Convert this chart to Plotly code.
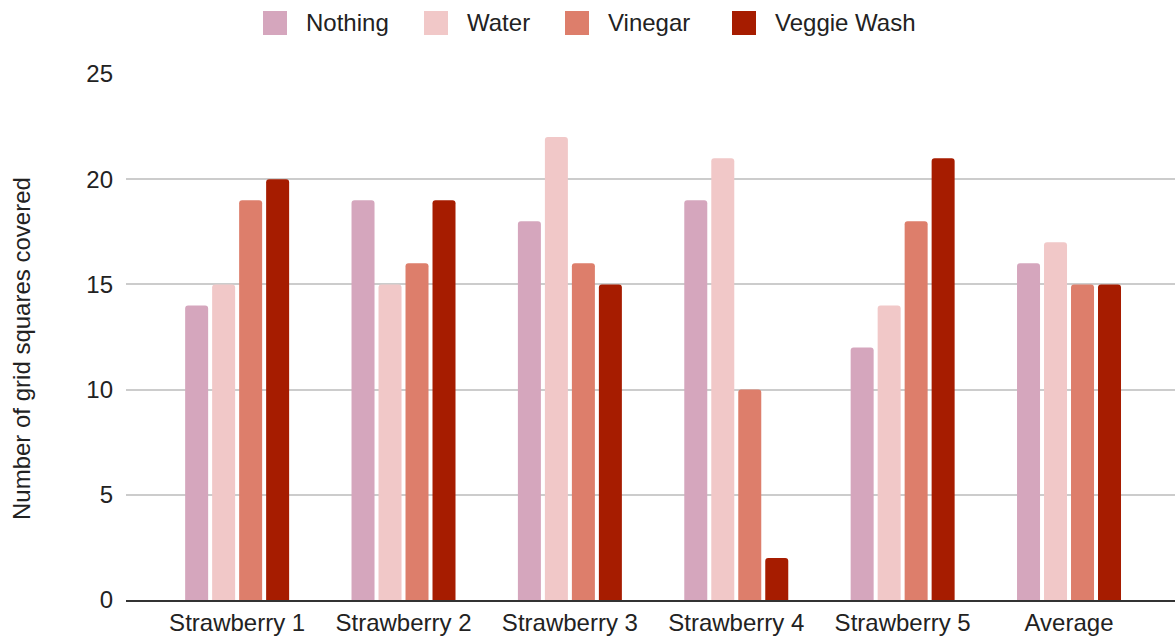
import plotly.graph_objects as go

categories = ["Strawberry 1", "Strawberry 2", "Strawberry 3", "Strawberry 4", "Strawberry 5", "Average"]
nothing = [14, 19, 18, 19, 12, 16]
water = [15, 15, 22, 21, 14, 17]
vinegar = [19, 16, 16, 10, 18, 15]
veggie_wash = [20, 19, 15, 2, 21, 15]
series_names = ["Nothing", "Water", "Vinegar", "Veggie Wash"]
colors = ["#d5a6bd", "#f1c8c8", "#dd7e6b", "#a61c00"]
y_ticks = [0, 5, 10, 15, 20, 25]

W, H = 1175, 640
ML, MR, MT, MB = 126, 0, 74, 40
PW, PH = W - ML - MR, H - MT - MB
FONT = "Liberation Sans, Arial, sans-serif"

def px_to_paper_x(px):
    return (px - ML) / PW

def px_to_paper_y(py):
    return (H - MB - py) / PH

fig = go.Figure()
for name, vals, col in zip(series_names, [nothing, water, vinegar, veggie_wash], colors):
    fig.add_trace(go.Bar(
        x=categories, y=vals, name=name, marker_color=col,
        marker_line_width=0, showlegend=False,
    ))

# custom legend (large square swatches like the original)
legend_marker_left = [263, 424, 565, 732]
shapes = []
annotations = []
for name, col, mx in zip(series_names, colors, legend_marker_left):
    shapes.append(dict(
        type="rect", xref="paper", yref="paper",
        x0=px_to_paper_x(mx), x1=px_to_paper_x(mx + 24),
        y0=px_to_paper_y(35), y1=px_to_paper_y(11),
        fillcolor=col, line=dict(width=0), layer="above",
    ))
    annotations.append(dict(
        text=name, xref="paper", yref="paper",
        x=px_to_paper_x(mx + 41), y=px_to_paper_y(23),
        xanchor="left", yanchor="middle", showarrow=False,
        font=dict(family=FONT, size=24, color="#222222"),
    ))

annotations.append(dict(
    text="Number of grid squares covered", xref="paper", yref="paper",
    x=px_to_paper_x(21), y=px_to_paper_y(349), textangle=-90,
    xanchor="center", yanchor="middle", showarrow=False,
    font=dict(family=FONT, size=24, color="#222222"),
))

fig.update_layout(
    width=W, height=H,
    margin=dict(l=ML, r=MR, t=MT, b=MB, pad=0),
    paper_bgcolor="white", plot_bgcolor="white",
    font=dict(family=FONT, size=24, color="#222222"),
    barmode="group", bargap=0.351, bargroupgap=0.148,
    barcornerradius=3,
    shapes=shapes, annotations=annotations,
    xaxis=dict(
        range=[-0.668, 5.637], showgrid=False,
        showline=True, linecolor="#333333", linewidth=2,
        ticks="", tickfont=dict(size=24, family=FONT, color="#222222"),
        ticklabelstandoff=0,
    ),
    yaxis=dict(
        range=[0, 25], tickvals=y_ticks, showgrid=True,
        gridcolor="#cccccc", gridwidth=1.5, zeroline=False,
        showline=False, ticks="",
        tickfont=dict(size=24, family=FONT, color="#222222"),
        ticklabelstandoff=12,
    ),
)

fig.write_html("out.html")
